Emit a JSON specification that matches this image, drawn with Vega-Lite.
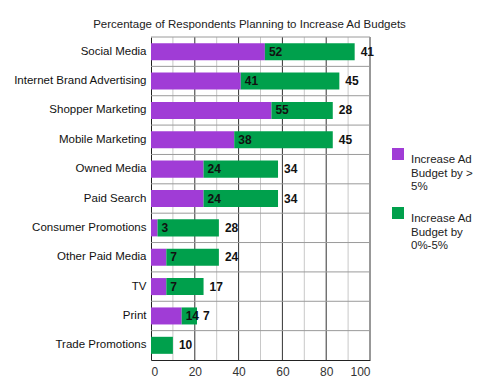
{
  "$schema": "https://vega.github.io/schema/vega-lite/v6.json",
  "width": 219,
  "height": 323,
  "autosize": {"type": "none"},
  "padding": {"left": 151, "top": 37, "right": 127, "bottom": 30},
  "background": "white",
  "config": {
    "font": "Liberation Sans",
    "view": {"stroke": null}
  },
  "title": {
    "text": "Percentage of Respondents Planning to Increase Ad Budgets",
    "fontSize": 11.5,
    "fontWeight": "normal",
    "font": "Liberation Sans",
    "color": "#222",
    "anchor": "middle",
    "dx": -11,
    "offset": 6
  },
  "datasets": {
    "bars": [
      {"category": "Social Media", "series": "Increase Ad Budget by > 5%", "order": 1, "value": 52},
      {"category": "Social Media", "series": "Increase Ad Budget by 0%-5%", "order": 2, "value": 41},
      {"category": "Internet Brand Advertising", "series": "Increase Ad Budget by > 5%", "order": 1, "value": 41},
      {"category": "Internet Brand Advertising", "series": "Increase Ad Budget by 0%-5%", "order": 2, "value": 45},
      {"category": "Shopper Marketing", "series": "Increase Ad Budget by > 5%", "order": 1, "value": 55},
      {"category": "Shopper Marketing", "series": "Increase Ad Budget by 0%-5%", "order": 2, "value": 28},
      {"category": "Mobile Marketing", "series": "Increase Ad Budget by > 5%", "order": 1, "value": 38},
      {"category": "Mobile Marketing", "series": "Increase Ad Budget by 0%-5%", "order": 2, "value": 45},
      {"category": "Owned Media", "series": "Increase Ad Budget by > 5%", "order": 1, "value": 24},
      {"category": "Owned Media", "series": "Increase Ad Budget by 0%-5%", "order": 2, "value": 34},
      {"category": "Paid Search", "series": "Increase Ad Budget by > 5%", "order": 1, "value": 24},
      {"category": "Paid Search", "series": "Increase Ad Budget by 0%-5%", "order": 2, "value": 34},
      {"category": "Consumer Promotions", "series": "Increase Ad Budget by > 5%", "order": 1, "value": 3},
      {"category": "Consumer Promotions", "series": "Increase Ad Budget by 0%-5%", "order": 2, "value": 28},
      {"category": "Other Paid Media", "series": "Increase Ad Budget by > 5%", "order": 1, "value": 7},
      {"category": "Other Paid Media", "series": "Increase Ad Budget by 0%-5%", "order": 2, "value": 24},
      {"category": "TV", "series": "Increase Ad Budget by > 5%", "order": 1, "value": 7},
      {"category": "TV", "series": "Increase Ad Budget by 0%-5%", "order": 2, "value": 17},
      {"category": "Print", "series": "Increase Ad Budget by > 5%", "order": 1, "value": 14},
      {"category": "Print", "series": "Increase Ad Budget by 0%-5%", "order": 2, "value": 7},
      {"category": "Trade Promotions", "series": "Increase Ad Budget by > 5%", "order": 1, "value": 0},
      {"category": "Trade Promotions", "series": "Increase Ad Budget by 0%-5%", "order": 2, "value": 10}
    ],
    "gridlines": [
      {"tick": 10, "major": false},
      {"tick": 20, "major": true},
      {"tick": 30, "major": false},
      {"tick": 40, "major": true},
      {"tick": 50, "major": false},
      {"tick": 60, "major": true},
      {"tick": 70, "major": false},
      {"tick": 80, "major": true},
      {"tick": 90, "major": false},
      {"tick": 100, "major": true}
    ]
  },
  "encoding": {
    "x": {
      "type": "quantitative",
      "title": null,
      "scale": {"domain": [0, 100], "nice": false},
      "axis": {
        "values": [0, 20, 40, 60, 80, 100],
        "grid": false,
        "ticks": false,
        "labelFontSize": 12,
        "labelColor": "#333",
        "labelFont": "Liberation Sans",
        "labelPadding": 6,
        "domainColor": "#222"
      }
    },
    "y": {
      "field": "category",
      "type": "nominal",
      "sort": null,
      "title": null,
      "scale": {"paddingInner": 0, "paddingOuter": 0},
      "axis": {
        "grid": false,
        "ticks": false,
        "labelPadding": 5,
        "labelFontSize": 11.5,
        "labelColor": "#111",
        "labelFont": "Liberation Sans",
        "domainColor": "#222"
      }
    }
  },
  "layer": [
    {
      "data": {"name": "gridlines"},
      "transform": [{"filter": "!datum.major"}],
      "mark": {"type": "rule", "strokeWidth": 1, "color": "#c8c8c8"},
      "encoding": {
        "x": {"field": "tick"},
        "y": null
      }
    },
    {
      "data": {"name": "gridlines"},
      "transform": [{"filter": "datum.major"}],
      "mark": {"type": "rule", "strokeWidth": 1, "color": "#333333"},
      "encoding": {
        "x": {"field": "tick"},
        "y": null
      }
    },
    {
      "data": {"name": "bars"},
      "transform": [{"filter": "datum.order === 1"}],
      "mark": {"type": "rule", "color": "#9a9a9a", "strokeWidth": 1},
      "encoding": {
        "x": null,
        "y": {"field": "category", "type": "nominal", "sort": null, "bandPosition": 0}
      }
    },
    {
      "data": {"name": "bars"},
      "transform": [
        {"stack": "value", "groupby": ["category"], "sort": [{"field": "order", "order": "ascending"}], "as": ["x0", "x1"]}
      ],
      "layer": [
        {
          "mark": {"type": "bar", "height": {"band": 0.58}},
          "encoding": {
            "x": {"field": "x0"},
            "x2": {"field": "x1"},
            "color": {
              "field": "series",
              "type": "nominal",
              "sort": ["Increase Ad Budget by > 5%", "Increase Ad Budget by 0%-5%"],
              "scale": {"domain": ["Increase Ad Budget by > 5%", "Increase Ad Budget by 0%-5%"], "range": ["#A03CD6", "#00A04C"]},
              "legend": {
                "title": null,
                "orient": "none",
                "legendX": 241,
                "legendY": 111,
                "symbolType": "square",
                "symbolSize": 144,
                "symbolStrokeWidth": 0,
                "labelFontSize": 11.5,
                "labelFont": "Liberation Sans",
                "labelColor": "#222",
                "labelOffset": 7,
                "labelBaseline": "top",
                "rowPadding": 14,
                "labelExpr": "datum.label == 'Increase Ad Budget by > 5%' ? ['Increase Ad', 'Budget by >', '5%'] : ['Increase Ad', 'Budget by', '0%-5%']"
              }
            }
          }
        },
        {
          "transform": [{"filter": "datum.value > 0 && datum.order === 1"}],
          "mark": {"type": "text", "align": "left", "baseline": "middle", "dx": 4, "fontWeight": "bold", "fontSize": 12, "font": "Liberation Sans", "color": "#111"},
          "encoding": {
            "x": {"field": "x1"},
            "text": {"field": "value", "type": "quantitative"}
          }
        },
        {
          "transform": [{"filter": "datum.value > 0 && datum.order === 2"}],
          "mark": {"type": "text", "align": "left", "baseline": "middle", "dx": 6, "fontWeight": "bold", "fontSize": 12, "font": "Liberation Sans", "color": "#111"},
          "encoding": {
            "x": {"field": "x1"},
            "text": {"field": "value", "type": "quantitative"}
          }
        }
      ]
    }
  ]
}
